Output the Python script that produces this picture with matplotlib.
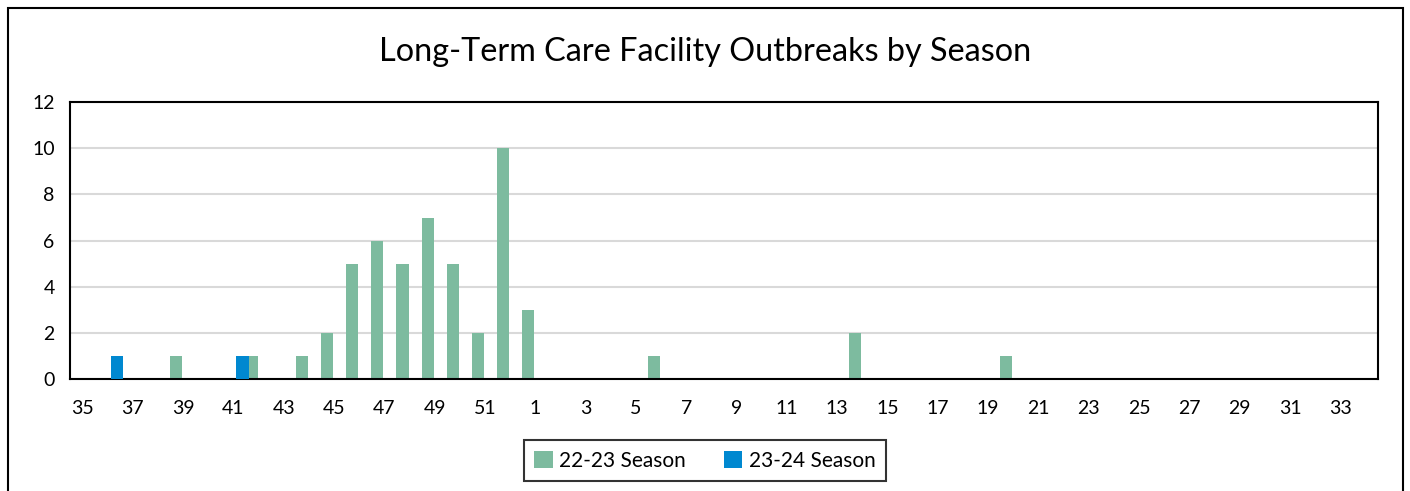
import numpy as np
import matplotlib.pyplot as plt
from matplotlib.patches import Rectangle

plt.rcParams['font.family'] = ['Lato', 'DejaVu Sans']

# week numbers of the surveillance season
weeks = list(range(35, 53)) + list(range(1, 35))

# outbreaks per week
s2223 = {39: 1, 42: 1, 44: 1, 45: 2, 46: 5, 47: 6, 48: 5, 49: 7, 50: 5,
         51: 2, 52: 10, 1: 3, 6: 1, 14: 2, 20: 1}
s2324 = {36: 1, 41: 1}

green_vals = [s2223.get(w, 0) for w in weeks]
blue_vals = [s2324.get(w, 0) for w in weeks]

green = '#7dbb9f'
blue = '#0088d0'

fig = plt.figure(figsize=(14.1, 4.91), dpi=100)
ax = fig.add_axes([0.0496, 0.228, 0.9277, 0.564])

x = np.arange(len(weeks))
ax.bar(x - 0.28, green_vals, width=0.48, color=green, label='22-23 Season', zorder=2)
ax.bar(x + 0.36, blue_vals, width=0.48, color=blue, label='23-24 Season', zorder=3)

ax.set_xlim(-0.5, len(weeks) - 0.5)
ax.set_ylim(0, 12)
ax.set_yticks(range(0, 13, 2))
ax.set_xticks(x[::2])
ax.set_xticklabels([str(w) for w in weeks[::2]])
ax.tick_params(axis='both', length=0, labelsize=14, colors='#000000')
ax.tick_params(axis='y', pad=11)
ax.tick_params(axis='x', pad=15)
ax.grid(axis='y', color='#d9d9d9', linewidth=1.5, zorder=0)
ax.set_axisbelow(True)
for s in ax.spines.values():
    s.set_linewidth(1.5)
    s.set_color('black')

fig.text(0.5, 0.895, 'Long-Term Care Facility Outbreaks by Season',
         ha='center', va='center', fontsize=23.3)

leg = fig.legend(loc='center', bbox_to_anchor=(0.5, 0.062), ncol=2, fontsize=15,
                 frameon=True, fancybox=False, edgecolor='black',
                 handlelength=0.9, handleheight=0.9, handletextpad=0.3,
                 columnspacing=1.8, borderpad=0.5)
leg.get_frame().set_linewidth(1.5)

# outer chart border
fig.patches.append(Rectangle((8 / 1410, -0.1), 1395 / 1410, 1.1 - 8 / 491,
                             transform=fig.transFigure, fill=False,
                             edgecolor='black', linewidth=1.5))

fig.savefig('out.png', dpi=100)
